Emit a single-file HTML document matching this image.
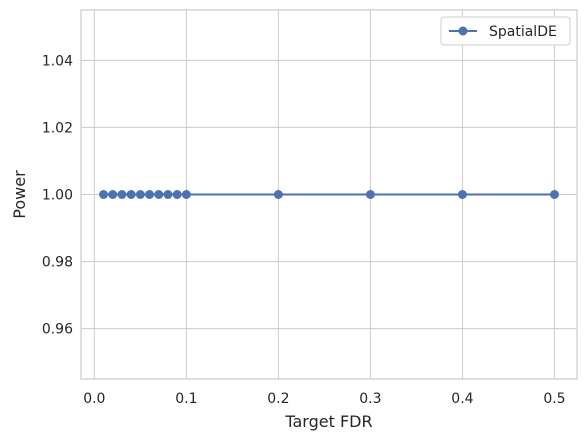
<!DOCTYPE html>
<html><head><meta charset="utf-8"><style>
html,body{margin:0;padding:0;background:#fff;}
svg{display:block;font-family:"DejaVu Sans","Liberation Sans",sans-serif;}
</style></head><body>
<svg id="chart" width="586" height="441">
<rect x="81" y="10" width="496" height="369" fill="#fff" stroke="#cccccc" stroke-width="1.25"/>
<g id="grid"></g>
<g id="axes"></g>
<g id="series"></g>
<text x="329" y="427" text-anchor="middle" font-size="16" fill="#262626">Target FDR</text>
<text transform="translate(25,194.5) rotate(-90)" text-anchor="middle" font-size="16" fill="#262626">Power</text>
<g>
<rect x="441" y="17" width="129" height="28" rx="3" fill="#fff" stroke="#cccccc"/>
<line x1="449" y1="31" x2="477" y2="31" stroke="#4c72b0" stroke-width="2"/>
<circle cx="463" cy="31" r="4.5" fill="#4c72b0"/>
<text x="489" y="36" font-size="14" fill="#262626">SpatialDE</text>
</g>
</svg>
<script>
const fdrTargets=[0.01,0.02,0.03,0.04,0.05,0.06,0.07,0.08,0.09,0.1,0.2,0.3,0.4,0.5];
const powerValues=[1,1,1,1,1,1,1,1,1,1,1,1,1,1];
const xTicks=[0.0,0.1,0.2,0.3,0.4,0.5];
const xTickLabels=["0.0","0.1","0.2","0.3","0.4","0.5"];
const yTicks=[0.96,0.98,1.00,1.02,1.04];
const yTickLabels=["0.96","0.98","1.00","1.02","1.04"];
const NS="http://www.w3.org/2000/svg";
const L=81,R=577,T=10,B=379;
const x0=-0.0145,x1=0.5245,y0=0.945,y1=1.055;
const sx=v=>L+(v-x0)/(x1-x0)*(R-L);
const sy=v=>B-(v-y0)/(y1-y0)*(B-T);
function mk(tag,attrs,parent){const e=document.createElementNS(NS,tag);for(const k in attrs)e.setAttribute(k,attrs[k]);parent.appendChild(e);return e;}
const grid=document.getElementById('grid'),axes=document.getElementById('axes'),series=document.getElementById('series');
xTicks.forEach((t,i)=>{
 const g=mk('line',{x1:sx(t),x2:sx(t),y1:T,y2:B,stroke:'#cccccc','stroke-width':1},grid);
 
 
 const tx=mk('text',{x:sx(t),y:B+24,'text-anchor':'middle','font-size':14,fill:'#262626'},axes);
 tx.textContent=xTickLabels[i];
 
 
});
yTicks.forEach((t,i)=>{
 const g=mk('line',{x1:L,x2:R,y1:sy(t),y2:sy(t),stroke:'#cccccc','stroke-width':1},grid);
 
 
 const tx=mk('text',{x:L-8,y:sy(t)+5,'text-anchor':'end','font-size':14,fill:'#262626'},axes);
 tx.textContent=yTickLabels[i];
 
 
});
const pts=fdrTargets.map((v,i)=>sx(v)+','+sy(powerValues[i])).join(' ');
const line=mk('polyline',{points:pts,fill:'none',stroke:'#4c72b0','stroke-width':2},series);


fdrTargets.forEach((v,i)=>{
 const c=mk('circle',{cx:sx(v),cy:sy(powerValues[i]),r:4.5,fill:'#4c72b0'},series);
 
 
});
</script>
</body></html>
